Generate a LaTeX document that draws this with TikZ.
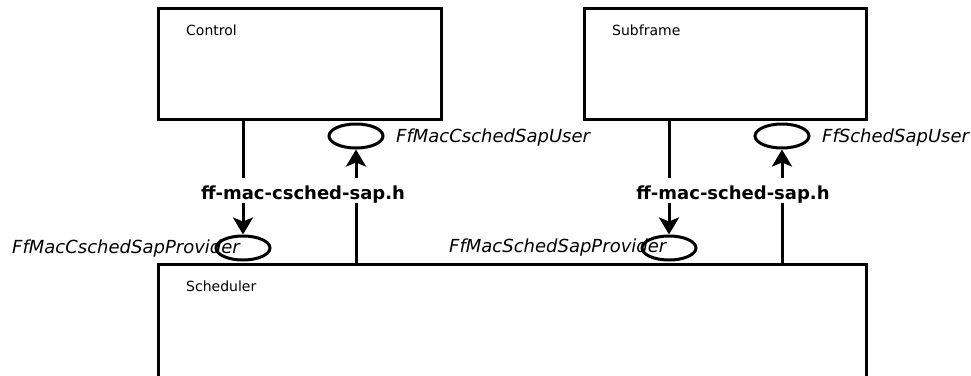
\documentclass[tikz,border=0pt]{standalone}
\usepackage{fontspec}
\setmainfont{DejaVu Sans}
\usetikzlibrary{shapes.geometric,arrows.meta}
\begin{document}
\begin{tikzpicture}[x=1pt,y=-1pt,
  box/.style={draw,line width=3pt,inner sep=0pt,fill=none},
  sap/.style={draw,ellipse,line width=3pt,inner sep=0pt,minimum width=54pt,minimum height=24pt},
  arr/.style={line width=3pt,-{Stealth[length=17pt,width=20pt,inset=4pt]}},
  boxtext/.style={inner sep=0pt,anchor=base west,font=\fontsize{14}{16}\selectfont},
  saptext/.style={inner sep=0pt,anchor=base west,font=\fontsize{18}{21}\selectfont\itshape},
  hdr/.style={inner sep=0pt,anchor=base,fill=white,text height=21pt,text depth=4pt,font=\fontsize{18}{21}\selectfont\bfseries}]
\useasboundingbox (0,0) rectangle (971,375);
\clip (0,0) rectangle (971,375);
% boxes
\node[box,minimum width=283pt,minimum height=111pt] (control) at (299.5,63.5) {};
\node[box,minimum width=282pt,minimum height=111pt] (subframe) at (725,63.5) {};
\node[box,minimum width=708pt,minimum height=126pt] (scheduler) at (512,327) {};
\node[boxtext] (tcontrol) at (186,35) {Control};
\node[boxtext] (tsubframe) at (612,35) {Subframe};
\node[boxtext] (tscheduler) at (186,291) {Scheduler};
% SAP ellipses
\node[sap] (csuser) at (356,136) {};
\node[sap] (csprov) at (243,248) {};
\node[sap] (suser) at (782,136) {};
\node[sap] (sprov) at (669,248) {};
% arrows
\draw[arr] (control.south -| csprov.north) -- (csprov.north);
\draw[arr] (scheduler.north -| csuser.south) -- (csuser.south);
\draw[arr] (subframe.south -| sprov.north) -- (sprov.north);
\draw[arr] (scheduler.north -| suser.south) -- (suser.south);
% header labels
\node[hdr] (hcsched) at (303,199) {ff-mac-csched-sap.h};
\node[hdr] (hsched) at (733,199) {ff-mac-sched-sap.h};
% SAP labels
\node[saptext] (lcsuser) at (396,142) {FfMacCschedSapUser};
\node[saptext] (lcsprov) at (12,253) {FfMacCschedSapProvider};
\node[saptext] (lsuser) at (822,142) {FfSchedSapUser};
\node[saptext] (lsprov) at (449,252) {FfMacSchedSapProvider};
\end{tikzpicture}
\end{document}
